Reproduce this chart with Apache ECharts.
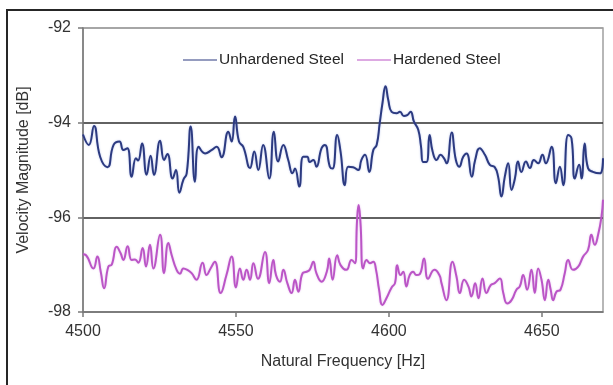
<!DOCTYPE html>
<html>
<head>
<meta charset="utf-8">
<script src="https://cdn.jsdelivr.net/npm/echarts@6/dist/echarts.min.js"></script>
<style>
  html, body { margin: 0; padding: 0; background: #fff; }
  #chart { width: 613px; height: 385px; }
</style>
</head>
<body>
<div id="chart"></div>
<script>
// Frequency response of the two steel samples (velocity magnitude in dB)
const seriesNames = ['Unhardened Steel', 'Hardened Steel'];
const xTicks = [4500, 4550, 4600, 4650];
const yTicks = [-98, -96, -94, -92];

const freqUnhardened = [
  4500, 4501.9, 4503.6, 4505.6, 4508, 4510, 4511.9, 4513.2, 4514.5, 4515.9,
  4517.3, 4518, 4519.3, 4520.8, 4522.1, 4523.2, 4525.2, 4526.5, 4527.6, 4529.3,
  4530.4, 4531.5, 4532.8, 4533.9, 4535.2, 4536.6, 4537.8, 4539.9, 4542, 4543.7,
  4545.3, 4547.5, 4548.6, 4549.7, 4551, 4552.4, 4554.6, 4556, 4557.3, 4558.9,
  4560.9, 4562.4, 4563.8, 4565.5, 4567.1, 4568.5, 4569.3, 4570.7, 4572, 4573.3,
  4574.1, 4575.3, 4576.3, 4578, 4579.1, 4580.7, 4581.6, 4583.1, 4584.2, 4585.6,
  4586.7, 4588.3, 4590, 4591, 4592.2, 4593.6, 4594.9, 4596, 4597, 4597.9,
  4598.9, 4599.8, 4600.9, 4602.5, 4603.6, 4604.9, 4606, 4607.1, 4608.2, 4609.6,
  4610.5, 4611.2, 4612.3, 4613.3, 4614.3, 4615.6, 4616.9, 4618, 4618.9, 4620.5,
  4621.9, 4623, 4624.3, 4625.4, 4627.1, 4628.2, 4629.7, 4631.4, 4633, 4634.6,
  4635.7, 4636.8, 4637.9, 4639, 4640.1, 4641.2, 4642.2, 4643.3, 4644.8, 4646.1,
  4647.4, 4648.8, 4650.2, 4651.3, 4653.2, 4654.6, 4655.9, 4657, 4658.6, 4659.7,
  4660.8, 4662.2, 4663, 4664, 4665.1, 4666.7, 4669, 4670
];
const velUnhardened = [
  -94.25, -94.47, -94.07, -94.72, -94.94, -94.47, -94.4, -94.58, -94.54, -95.14,
  -94.75, -94.8, -94.44, -95.1, -94.7, -95.1, -94.38, -94.79, -94.66, -95.18,
  -95.0, -95.48, -95.21, -95.07, -94.08, -95.25, -94.51, -94.65, -94.58, -94.51,
  -94.73, -94.19, -94.4, -93.87, -94.4, -94.51, -94.96, -94.61, -95.0, -94.47,
  -95.18, -94.19, -94.82, -94.47, -94.79, -95.07, -94.97, -95.35, -94.72, -94.72,
  -94.83, -94.79, -94.93, -94.54, -94.47, -94.93, -94.97, -94.26, -94.61, -95.32,
  -94.93, -94.94, -95.0, -94.79, -94.68, -95.04, -94.58, -94.47, -94.01, -93.59,
  -93.23, -93.52, -93.77, -93.8, -93.77, -93.86, -93.84, -93.77, -93.98, -94.15,
  -94.5, -94.83, -94.83, -94.26, -94.61, -94.79, -94.68, -94.75, -94.86, -94.21,
  -94.79, -94.93, -94.72, -94.65, -95.14, -94.79, -94.54, -94.68, -94.89, -94.94,
  -95.14, -95.56, -95.14, -94.86, -95.42, -95.18, -94.82, -95.04, -94.82, -94.96,
  -94.79, -94.86, -94.68, -94.86, -94.51, -95.28, -94.93, -95.32, -94.26, -94.33,
  -95.18, -94.89, -95.18, -94.44, -94.96, -95.04, -95.07, -94.75
];

const freqHardened = [
  4500, 4501, 4503.4, 4504.7, 4505.8, 4506.9, 4508.3, 4509.4, 4511, 4512.3,
  4513.2, 4514.6, 4515.9, 4517, 4518.1, 4519.5, 4520.6, 4521.9, 4523, 4525.2,
  4526.5, 4527.9, 4529, 4530.6, 4531.7, 4532.8, 4534.1, 4535.5, 4537.1, 4539.1,
  4540.4, 4541.7, 4543.1, 4545, 4546.9, 4548.6, 4550, 4551.3, 4552.4, 4553.5,
  4554.6, 4555.7, 4557.2, 4559.5, 4560.9, 4562.2, 4563.1, 4564.4, 4565.5, 4566.8,
  4568.2, 4569.3, 4570.4, 4571.8, 4573.1, 4574.1, 4575.3, 4576.3, 4578, 4579.7,
  4580.5, 4581.6, 4583.1, 4584.2, 4586.1, 4587.8, 4588.9, 4589.6, 4590.1, 4590.7,
  4591.6, 4592.7, 4593.8, 4594.9, 4595.8, 4596.8, 4597.9, 4599.2, 4600.9, 4602,
  4602.7, 4603.8, 4604.7, 4605.7, 4606.8, 4607.9, 4609, 4610.1, 4611.5, 4612.8,
  4614.9, 4616.5, 4617.2, 4618.8, 4620.8, 4622.1, 4623.2, 4624.6, 4626, 4627,
  4628.2, 4629.3, 4630.6, 4631.9, 4633.3, 4634.6, 4636.3, 4637.4, 4638.7, 4640.1,
  4641.7, 4642.8, 4643.9, 4645.2, 4646.6, 4647.7, 4648.8, 4649.9, 4651, 4652.1,
  4652.9, 4653.7, 4654.8, 4656.1, 4657.5, 4658.6, 4660.2, 4661.9, 4663.5, 4665.1,
  4666.2, 4667.3, 4668.4, 4669.5, 4670
];
const velHardened = [
  -96.78, -96.8, -97.08, -96.83, -97.15, -97.5, -97.04, -97.0, -96.62, -96.76,
  -96.9, -96.61, -96.9, -96.89, -96.96, -96.65, -97.04, -96.58, -97.08, -96.37,
  -97.18, -96.54, -96.8, -97.11, -97.19, -97.08, -97.11, -97.18, -97.32, -96.96,
  -97.22, -97.08, -96.94, -97.6, -97.22, -96.83, -97.48, -97.08, -97.32, -97.11,
  -97.32, -96.97, -97.3, -96.73, -97.39, -96.9, -97.22, -97.36, -97.11, -97.39,
  -97.6, -97.32, -97.57, -97.18, -97.15, -97.11, -96.94, -97.18, -97.36, -97.15,
  -96.87, -97.32, -96.8, -97.01, -97.11, -96.9, -96.97, -96.06, -95.74, -96.1,
  -97.08, -96.9, -96.97, -96.94, -97.11, -97.53, -97.85, -97.71, -97.48, -97.39,
  -97.01, -97.22, -97.15, -97.46, -97.22, -97.15, -97.22, -97.2, -96.87, -97.3,
  -97.11, -97.22, -97.39, -97.75, -96.94, -97.25, -97.6, -97.32, -97.46, -97.67,
  -97.39, -97.71, -97.29, -97.6, -97.43, -97.39, -97.29, -97.6, -97.82, -97.75,
  -97.53, -97.46, -97.22, -97.53, -97.11, -97.6, -97.08, -97.32, -97.75, -97.32,
  -97.53, -97.75, -97.57, -97.53, -97.18, -96.9, -97.11, -97.04, -96.83, -96.69,
  -96.37, -96.58, -96.37, -95.99, -95.63
];

const pair = (xs, ys) => xs.map((x, i) => [x, ys[i]]);
const FONT = '"Liberation Sans", Arial, sans-serif';

const chart = echarts.init(document.getElementById('chart'), null, { renderer: 'canvas' });
chart.setOption({
  animation: false,
  backgroundColor: '#ffffff',
  textStyle: { fontFamily: FONT },
  graphic: [{
    type: 'rect',
    shape: { x: 7, y: 10, width: 700, height: 500 },
    style: { fill: null, stroke: '#262626', lineWidth: 2 },
    silent: true, z: 0
  }],
  grid: {
    left: 83, top: 28, right: 10, bottom: 73,
    show: true, borderColor: '#a0a0a0', borderWidth: 1.5, backgroundColor: '#fff'
  },
  legend: {
    data: seriesNames,
    left: 178, top: 47,
    itemWidth: 34, itemHeight: 10, itemGap: 13,
    icon: 'path://M0,4.5 L34,4.5 L34,5.5 L0,5.5 Z',
    textStyle: { fontFamily: FONT, fontSize: 15.5, color: '#262626', padding: [0, 0, 0, -3] }
  },
  xAxis: {
    type: 'value', min: 4500, max: 4670, interval: 50,
    name: 'Natural Frequency [Hz]', nameLocation: 'middle', nameGap: 42,
    nameTextStyle: { fontFamily: FONT, fontSize: 16, color: '#333' },
    axisLine: { show: true, onZero: false, lineStyle: { color: '#7a7a7a', width: 1.5 } },
    axisTick: { show: true, inside: false, length: 5, customValues: xTicks, lineStyle: { color: '#7a7a7a', width: 1.5 } },
    axisLabel: { customValues: xTicks, margin: 12, fontFamily: FONT, fontSize: 16, color: '#333',
      formatter: v => String(v) },
    splitLine: { show: false }
  },
  yAxis: {
    type: 'value', min: -98, max: -92, interval: 2,
    name: 'Velocity Magnitude [dB]', nameLocation: 'middle', nameGap: 51,
    nameTextStyle: { fontFamily: FONT, fontSize: 16, color: '#333' },
    axisLine: { show: true, onZero: false, lineStyle: { color: '#7a7a7a', width: 1.5 } },
    axisTick: { show: true, inside: false, length: 5, lineStyle: { color: '#7a7a7a', width: 1.5 } },
    axisLabel: { margin: 12, fontFamily: FONT, fontSize: 16, color: '#333',
      formatter: v => yTicks.includes(v) ? String(v) : '' },
    splitLine: { show: true, lineStyle: { color: ['#7a7a7a', '#2e2e2e', '#2e2e2e', '#a0a0a0'], width: 1.5 } }
  },
  series: [
    {
      name: seriesNames[0], type: 'line', data: pair(freqUnhardened, velUnhardened),
      showSymbol: false, smooth: 0.5, clip: true,
      lineStyle: { color: '#2c3a80', width: 2, shadowColor: 'rgba(90,120,210,0.45)', shadowBlur: 2 },
      itemStyle: { color: '#2c3a80' }
    },
    {
      name: seriesNames[1], type: 'line', data: pair(freqHardened, velHardened),
      showSymbol: false, smooth: 0.5, clip: true,
      lineStyle: { color: '#bb55c6', width: 2, shadowColor: 'rgba(200,120,220,0.45)', shadowBlur: 2 },
      itemStyle: { color: '#bb55c6' }
    }
  ]
});
</script>
</body>
</html>
